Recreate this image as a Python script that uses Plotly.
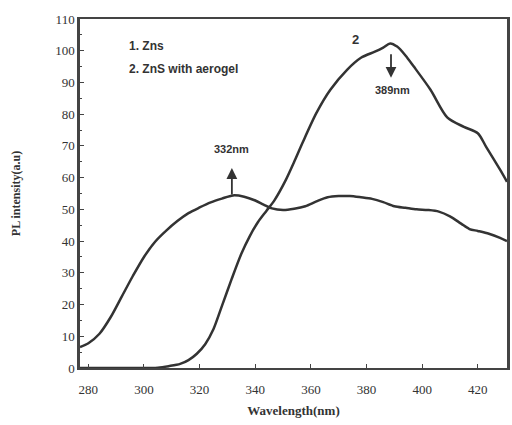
import plotly.graph_objects as go

# Curve 1: ZnS
wl_1 = [277, 280, 284, 288, 292, 296, 300, 304, 308, 312, 316, 320, 324, 328, 332, 336, 340,
        343, 346, 350, 354, 358, 362, 366, 370, 374, 378, 382, 386, 390, 394, 398, 402,
        406, 410, 414, 417, 420, 424, 428, 430.5]
pl_1 = [6.6, 7.8, 10.8, 16, 22.5, 29, 35, 39.8, 43.3, 46.3, 48.8, 50.6, 52.2, 53.4, 54.4, 54, 52.8,
        51.5, 50.3, 49.8, 50.2, 51, 52.5, 53.8, 54.2, 54.2, 53.8, 53.3, 52.3, 51, 50.5, 50, 49.8,
        49.3, 47.8, 45.5, 43.8, 43.2, 42.3, 41, 40]

# Curve 2: ZnS with aerogel
wl_2 = [277, 295, 305, 309, 313, 316, 319, 322, 325, 328, 331.5, 335, 338, 341, 344, 347, 351,
        354, 357, 362, 367, 373, 378, 383, 386, 388.5, 391, 394, 397, 403, 409, 415, 420, 423, 428, 430.5]
pl_2 = [0, 0, 0.1, 0.6, 1.3, 2.5, 4.5, 7.5, 12.3, 19.5, 28, 36, 41.5, 46, 49.5, 53, 59.3,
        65, 71, 80.4, 87.7, 94, 97.8, 99.7, 101, 102.3, 101.3, 98.5, 95, 87.7, 79, 76, 74, 69.7, 62.5, 58.7]

x_ticks = [280, 300, 320, 340, 360, 380, 400, 420]
y_ticks = [0, 10, 20, 30, 40, 50, 60, 70, 80, 90, 100, 110]

line_col = "#333333"
fig = go.Figure()
fig.add_trace(go.Scatter(x=wl_1, y=pl_1, mode="lines", name="1. Zns",
                         line=dict(color=line_col, width=2.5, shape="spline", smoothing=0.8)))
fig.add_trace(go.Scatter(x=wl_2, y=pl_2, mode="lines", name="2. ZnS with aerogel",
                         line=dict(color=line_col, width=2.5, shape="spline", smoothing=0.8)))

tick_font = dict(family="Liberation Serif", size=13, color="#333333")
fig.update_layout(
    width=512, height=425,
    margin=dict(l=80, r=2, t=19, b=57),
    paper_bgcolor="white", plot_bgcolor="white",
    showlegend=False,
    xaxis=dict(range=[277, 430.5], tickvals=x_ticks, showgrid=False, zeroline=False,
               showline=True, linecolor="#444444", linewidth=2, mirror=True,
               ticks="inside", ticklen=4, tickcolor="#444444",
               tickfont=tick_font, ticklabelstandoff=8,
               title=dict(text="<b>Wavelength(nm)</b>", font=dict(family="Liberation Serif", size=13, color="#333333"), standoff=10)),
    yaxis=dict(range=[0, 110], tickvals=y_ticks, showgrid=False, zeroline=False,
               showline=True, linecolor="#444444", linewidth=2.5, mirror=True,
               ticks="inside", ticklen=4, tickcolor="#444444",
               minor=dict(dtick=5, ticks="inside", ticklen=2, tickcolor="#444444"),
               tickfont=tick_font,
               title=dict(text="<b>PL intensity(a.u)</b>", font=dict(family="Liberation Serif", size=12, color="#333333"), standoff=32)),
)

fig.update_xaxes(tickprefix="<b>", ticksuffix="</b>")
fig.update_yaxes(tickprefix="<b>", ticksuffix="</b>")

lab_font = dict(family="Liberation Sans", size=12, color="#333333")
fig.add_annotation(x=294, y=101.5, text="<b>1. Zns</b>", showarrow=False, xanchor="left", yanchor="middle", font=lab_font)
fig.add_annotation(x=294, y=94.3, text="<b>2. ZnS with aerogel</b>", showarrow=False, xanchor="left", yanchor="middle", font=lab_font)
fig.add_annotation(x=376, y=103.5, text="<b>2</b>", showarrow=False, font=dict(family="Liberation Sans", size=13, color="#333333"))

# peak arrows
fig.add_annotation(x=331.6, y=63, ax=0, ay=28, text="", showarrow=True, arrowhead=2, arrowsize=1.2,
                   arrowwidth=1.8, arrowcolor=line_col)
fig.add_annotation(x=331.6, y=66.5, text="<b>332nm</b>", showarrow=False, yanchor="bottom",
                   font=dict(family="Liberation Sans", size=11, color="#333333"))
fig.add_annotation(x=388.8, y=91.5, ax=0, ay=-25, text="", showarrow=True, arrowhead=2, arrowsize=1.2,
                   arrowwidth=1.8, arrowcolor=line_col)
fig.add_annotation(x=389.5, y=90, text="<b>389nm</b>", showarrow=False, yanchor="top",
                   font=dict(family="Liberation Sans", size=11, color="#333333"))

fig.write_html("out.html", config={"displayModeBar": False},
               post_script="document.body.style.margin='0';")
